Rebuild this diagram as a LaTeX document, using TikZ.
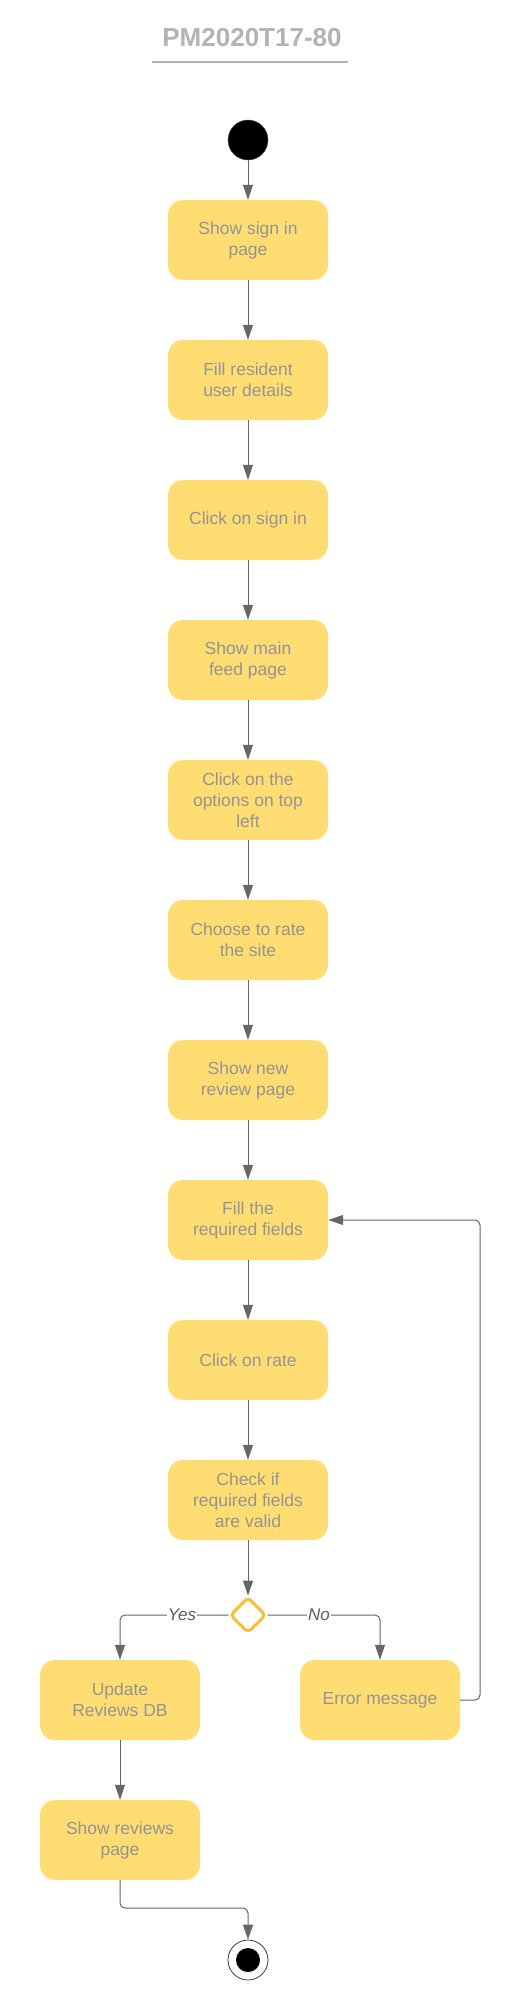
\documentclass[tikz,border=0pt]{standalone}
\usepackage{fontspec}
\setmainfont{Liberation Sans}
\usetikzlibrary{arrows.meta,shapes.geometric}
\definecolor{boxfill}{HTML}{FFDD73}
\definecolor{boxtext}{HTML}{949494}
\definecolor{linec}{HTML}{666666}
\definecolor{titlec}{HTML}{B3B3B3}
\definecolor{decc}{HTML}{F9BE34}
\tikzset{
  actbox/.style={rectangle, rounded corners=15pt, fill=boxfill, draw=none,
    minimum width=160pt, minimum height=80pt, align=center, text=boxtext,
    font=\fontsize{17.5}{21}\selectfont, inner sep=0pt},
  flow/.style={draw=linec, line width=1pt, -{Triangle[length=15pt,width=10pt]}, rounded corners=5pt},
  lbl/.style={fill=white, text=linec!90!black, font=\fontsize{17}{20}\selectfont\itshape, inner sep=1pt},
}
\begin{document}
\begin{tikzpicture}[x=1pt,y=-1pt]
\useasboundingbox (0,0) rectangle (516,2000);
% title
\node[text=titlec, font=\fontsize{26}{30}\selectfont\bfseries] (title) at (252,38) {PM2020T17-80};
\draw[titlec, line width=1.5pt] (152,62) -- (348,62);
% start
\node[circle, fill=black, draw=black!70, minimum size=40pt, inner sep=0pt] (start) at (248,140) {};
% activities
\node[actbox] (a1) at (248,240) {Show sign in\\page};
\node[actbox] (a2) at (248,380) {Fill resident\\user details};
\node[actbox] (a3) at (248,520) {Click on sign in};
\node[actbox] (a4) at (248,660) {Show main\\feed page};
\node[actbox] (a5) at (248,800) {Click on the\\options on top\\left};
\node[actbox] (a6) at (248,940) {Choose to rate\\the site};
\node[actbox] (a7) at (248,1080) {Show new\\review page};
\node[actbox] (a8) at (248,1220) {Fill the\\required fields};
\node[actbox] (a9) at (248,1360) {Click on rate};
\node[actbox] (a10) at (248,1500) {Check if\\required fields\\are valid};
% decision
\node[diamond, draw=decc, fill=white, line width=3pt, rounded corners=4pt, minimum width=36pt, minimum height=36pt, inner sep=0pt] (dec) at (248,1615) {};
\node[actbox] (upd) at (120,1700) {Update\\Reviews DB};
\node[actbox] (err) at (380,1700) {Error message};
\node[actbox] (rev) at (120,1840) {Show reviews\\page};
% end
\node[circle, draw=linec!60!black, line width=0.8pt, fill=white, minimum size=40pt, inner sep=0pt] (end) at (248,1960) {};
\node[circle, fill=black, minimum size=24pt, inner sep=0pt] (endin) at (248,1960) {};
% coordinates
\coordinate (yb) at (120,1615);
\coordinate (nb) at (380,1615);
\coordinate (lp1) at (480,1700);
\coordinate (lp2) at (480,1220);
\coordinate (rb1) at (120,1908);
\coordinate (rb2) at (248,1908);
% connectors
\draw[flow] (start) -- (a1);
\draw[flow] (a1) -- (a2);
\draw[flow] (a2) -- (a3);
\draw[flow] (a3) -- (a4);
\draw[flow] (a4) -- (a5);
\draw[flow] (a5) -- (a6);
\draw[flow] (a6) -- (a7);
\draw[flow] (a7) -- (a8);
\draw[flow] (a8) -- (a9);
\draw[flow] (a9) -- (a10);
\draw[flow] (a10) -- (dec);
\draw[flow] (dec.west) -- (yb) -- (upd.north);
\draw[flow] (dec.east) -- (nb) -- (err.north);
\draw[flow] (err.east) -- (lp1) -- (lp2) -- (a8.east);
\draw[flow] (upd) -- (rev);
\draw[flow] (rev.south) -- (rb1) -- (rb2) -- (end.north);
% labels
\node[lbl] (yes) at (182,1615) {Yes};
\node[lbl] (no) at (319,1615) {No};
\end{tikzpicture}
\end{document}
